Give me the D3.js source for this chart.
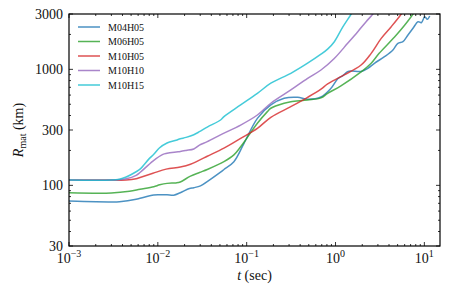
<!DOCTYPE html>
<html>
<head>
<meta charset="utf-8">
<script src="https://cdn.jsdelivr.net/npm/d3@7"></script>
<style>
  body { margin: 0; background: #fff; }
  svg { display: block; }
  text { font-family: "Liberation Serif", "DejaVu Serif", serif; fill: #111; }
</style>
</head>
<body>
<div id="chart"></div>
<script>
// series names and colours (matplotlib tab colours, drawn at alpha .8)
const seriesNames = ["M04H05", "M06H05", "M10H05", "M10H10", "M10H15"];
const seriesColors = ["#1f77b4", "#2ca02c", "#d62728", "#9467bd", "#17becf"];

// [t (sec), R_mat (km)]
const m04h05 = [
  [0.001, 73.3], [0.003, 72], [0.0037, 72.3], [0.0057, 75.8], [0.0063, 77.3],
  [0.009, 82.6], [0.0104, 83], [0.0127, 83], [0.0151, 82.2], [0.0179, 86.4],
  [0.0227, 94], [0.0254, 95.5], [0.0302, 99], [0.038, 111], [0.0508, 130],
  [0.0555, 137], [0.0718, 160], [0.0933, 230], [0.132, 378], [0.187, 493],
  [0.264, 563], [0.374, 574], [0.485, 552], [0.686, 578], [0.889, 686],
  [1.06, 830], [1.2, 880], [1.37, 955], [1.5, 968], [1.94, 960], [2.31, 1021],
  [2.74, 1128], [3.56, 1285], [4.43, 1468], [5.04, 1676], [5.74, 1730],
  [6.54, 1977], [7.45, 2258], [8.49, 2576], [9.25, 2524], [10.1, 2843],
  [10.8, 2700], [11.5, 2884]
];
const m06h05 = [
  [0.001, 86.4], [0.003, 86], [0.0048, 89], [0.0063, 92.5], [0.009, 97.3],
  [0.0105, 101], [0.0127, 104], [0.0161, 105], [0.0179, 107], [0.0233, 120],
  [0.0294, 129], [0.036, 137], [0.0555, 160], [0.0718, 183], [0.0855, 215],
  [0.0933, 235], [0.132, 343], [0.171, 432], [0.187, 462], [0.264, 510],
  [0.314, 526], [0.485, 545], [0.686, 568], [0.816, 621], [1.15, 720],
  [1.94, 950], [2.52, 1128], [3.1, 1374], [4.62, 1900], [5.99, 2400],
  [7.45, 3000], [8.2, 3400]
];
const m10h05 = [
  [0.001, 111], [0.003, 111], [0.0044, 111], [0.0057, 114], [0.0063, 117],
  [0.0088, 127], [0.0124, 138], [0.0179, 144], [0.0233, 152], [0.0294, 165],
  [0.036, 178], [0.0555, 209], [0.0855, 254], [0.132, 310], [0.187, 386],
  [0.314, 477], [0.485, 574], [0.686, 675], [0.816, 748], [1.15, 865],
  [1.94, 1090], [2.52, 1374], [3.27, 1850], [4.24, 2333], [5.5, 3000],
  [6.1, 3400]
];
const m10h10 = [
  [0.001, 111], [0.003, 111], [0.0044, 114], [0.0057, 122], [0.0063, 129],
  [0.0088, 162], [0.0114, 185], [0.0127, 189], [0.0161, 194], [0.0179, 196],
  [0.0208, 200], [0.0254, 206], [0.0294, 222], [0.036, 238], [0.052, 275],
  [0.0855, 331], [0.132, 404], [0.187, 510], [0.314, 664], [0.485, 837],
  [0.686, 987], [0.968, 1240], [1.37, 1676], [1.78, 2111], [2.21, 2576],
  [2.63, 3000], [2.9, 3400]
];
const m10h15 = [
  [0.001, 111], [0.003, 111], [0.0037, 113], [0.0044, 118], [0.0057, 131],
  [0.0063, 138], [0.008, 170], [0.009, 185], [0.0104, 210], [0.0127, 232],
  [0.0161, 245], [0.0179, 252], [0.0208, 259], [0.0254, 273], [0.0294, 290],
  [0.036, 318], [0.0508, 366], [0.0555, 391], [0.0855, 493], [0.132, 621],
  [0.187, 760], [0.314, 924], [0.485, 1130], [0.686, 1350], [0.82, 1500],
  [0.97, 1730], [1.2, 2300], [1.5, 3000], [1.6, 3300]
];
const seriesData = [m04h05, m06h05, m10h05, m10h10, m10h15];

// axis ticks
const xTickExps = [-3, -2, -1, 0, 1];
const yTickValues = [30, 100, 300, 1000, 3000];

const width = 463, height = 290;
const margin = { top: 14, right: 23, bottom: 44, left: 69 };

const svg = d3.select("#chart").append("svg")
  .attr("width", width)
  .attr("height", height);

const x = d3.scaleLog().domain([1e-3, 15]).range([margin.left, width - margin.right]);
const y = d3.scaleLog().domain([30, 3000]).range([height - margin.bottom, margin.top]);

svg.append("clipPath").attr("id", "plotclip")
  .append("rect")
  .attr("x", margin.left).attr("y", margin.top)
  .attr("width", width - margin.left - margin.right)
  .attr("height", height - margin.top - margin.bottom);

const line = d3.line()
  .x((d) => x(d[0]))
  .y((d) => y(d[1]))
  .curve(d3.curveCatmullRom.alpha(0.5));

const lines = svg.append("g").attr("clip-path", "url(#plotclip)");
seriesData.forEach((s, i) => {
  lines.append("path")
    .attr("d", line(s))
    .attr("fill", "none")
    .attr("stroke", seriesColors[i])
    .attr("stroke-opacity", 0.8)
    .attr("stroke-width", 1.5);
});

// ticks, inside on all four sides
const x0 = margin.left, x1 = width - margin.right;
const y0 = height - margin.bottom, y1 = margin.top;
const tickG = svg.append("g").attr("stroke", "#000").attr("stroke-width", 0.8);

const xMinor = [];
for (let e = -3; e <= 1; e++) {
  for (let k = 2; k <= 9; k++) {
    const v = k * Math.pow(10, e);
    if (v <= 15) xMinor.push(v);
  }
}
xMinor.forEach((v) => {
  tickG.append("line").attr("x1", x(v)).attr("x2", x(v)).attr("y1", y0).attr("y2", y0 - 2);
  tickG.append("line").attr("x1", x(v)).attr("x2", x(v)).attr("y1", y1).attr("y2", y1 + 2);
});
xTickExps.forEach((e) => {
  const v = Math.pow(10, e);
  tickG.append("line").attr("x1", x(v)).attr("x2", x(v)).attr("y1", y0).attr("y2", y0 - 4);
  tickG.append("line").attr("x1", x(v)).attr("x2", x(v)).attr("y1", y1).attr("y2", y1 + 4);
});

const yMinor = [40, 50, 60, 70, 80, 90, 200, 400, 500, 600, 700, 800, 900, 2000];
yMinor.forEach((v) => {
  tickG.append("line").attr("x1", x0).attr("x2", x0 + 2).attr("y1", y(v)).attr("y2", y(v));
  tickG.append("line").attr("x1", x1).attr("x2", x1 - 2).attr("y1", y(v)).attr("y2", y(v));
});
yTickValues.forEach((v) => {
  tickG.append("line").attr("x1", x0).attr("x2", x0 + 4).attr("y1", y(v)).attr("y2", y(v));
  tickG.append("line").attr("x1", x1).attr("x2", x1 - 4).attr("y1", y(v)).attr("y2", y(v));
});

// frame
svg.append("rect")
  .attr("x", x0).attr("y", y1)
  .attr("width", x1 - x0).attr("height", y0 - y1)
  .attr("fill", "none")
  .attr("stroke", "#000")
  .attr("stroke-width", 1.2);

// tick labels
yTickValues.forEach((v) => {
  svg.append("text")
    .attr("x", x0 - 6)
    .attr("y", y(v) + 5)
    .attr("text-anchor", "end")
    .style("font-size", "14px")
    .text(v);
});

xTickExps.forEach((e) => {
  const t = svg.append("text")
    .attr("x", x(Math.pow(10, e)))
    .attr("y", y0 + 17)
    .attr("text-anchor", "middle")
    .style("font-size", "14px");
  t.append("tspan").text("10");
  t.append("tspan").attr("dy", -6).style("font-size", "10px")
    .text(e < 0 ? "\u2212" + Math.abs(e) : String(e));
});

// axis titles
const xl = svg.append("text")
  .attr("x", (x0 + x1) / 2)
  .attr("y", height - 10)
  .attr("text-anchor", "middle")
  .style("font-size", "14px");
xl.append("tspan").style("font-style", "italic").text("t");
xl.append("tspan").text(" (sec)");

const yl = svg.append("text")
  .attr("transform", `translate(23,${(y0 + y1) / 2}) rotate(-90)`)
  .attr("text-anchor", "middle")
  .style("font-size", "14px");
yl.append("tspan").style("font-style", "italic").text("R");
yl.append("tspan").attr("dy", 3).style("font-size", "10px").text("mat");
yl.append("tspan").attr("dy", -3).text(" (km)");

// legend
const legend = svg.append("g").attr("transform", `translate(${x0 + 9},${y1 + 13})`);
seriesNames.forEach((name, i) => {
  const g = legend.append("g").attr("transform", `translate(0,${i * 14.5})`);
  g.append("line")
    .attr("x1", 0).attr("x2", 22)
    .attr("stroke", seriesColors[i])
    .attr("stroke-opacity", 0.8)
    .attr("stroke-width", 1.5);
  g.append("text")
    .attr("x", 30)
    .attr("y", 3.5)
    .style("font-size", "10px")
    .text(name);
});
</script>
</body>
</html>
